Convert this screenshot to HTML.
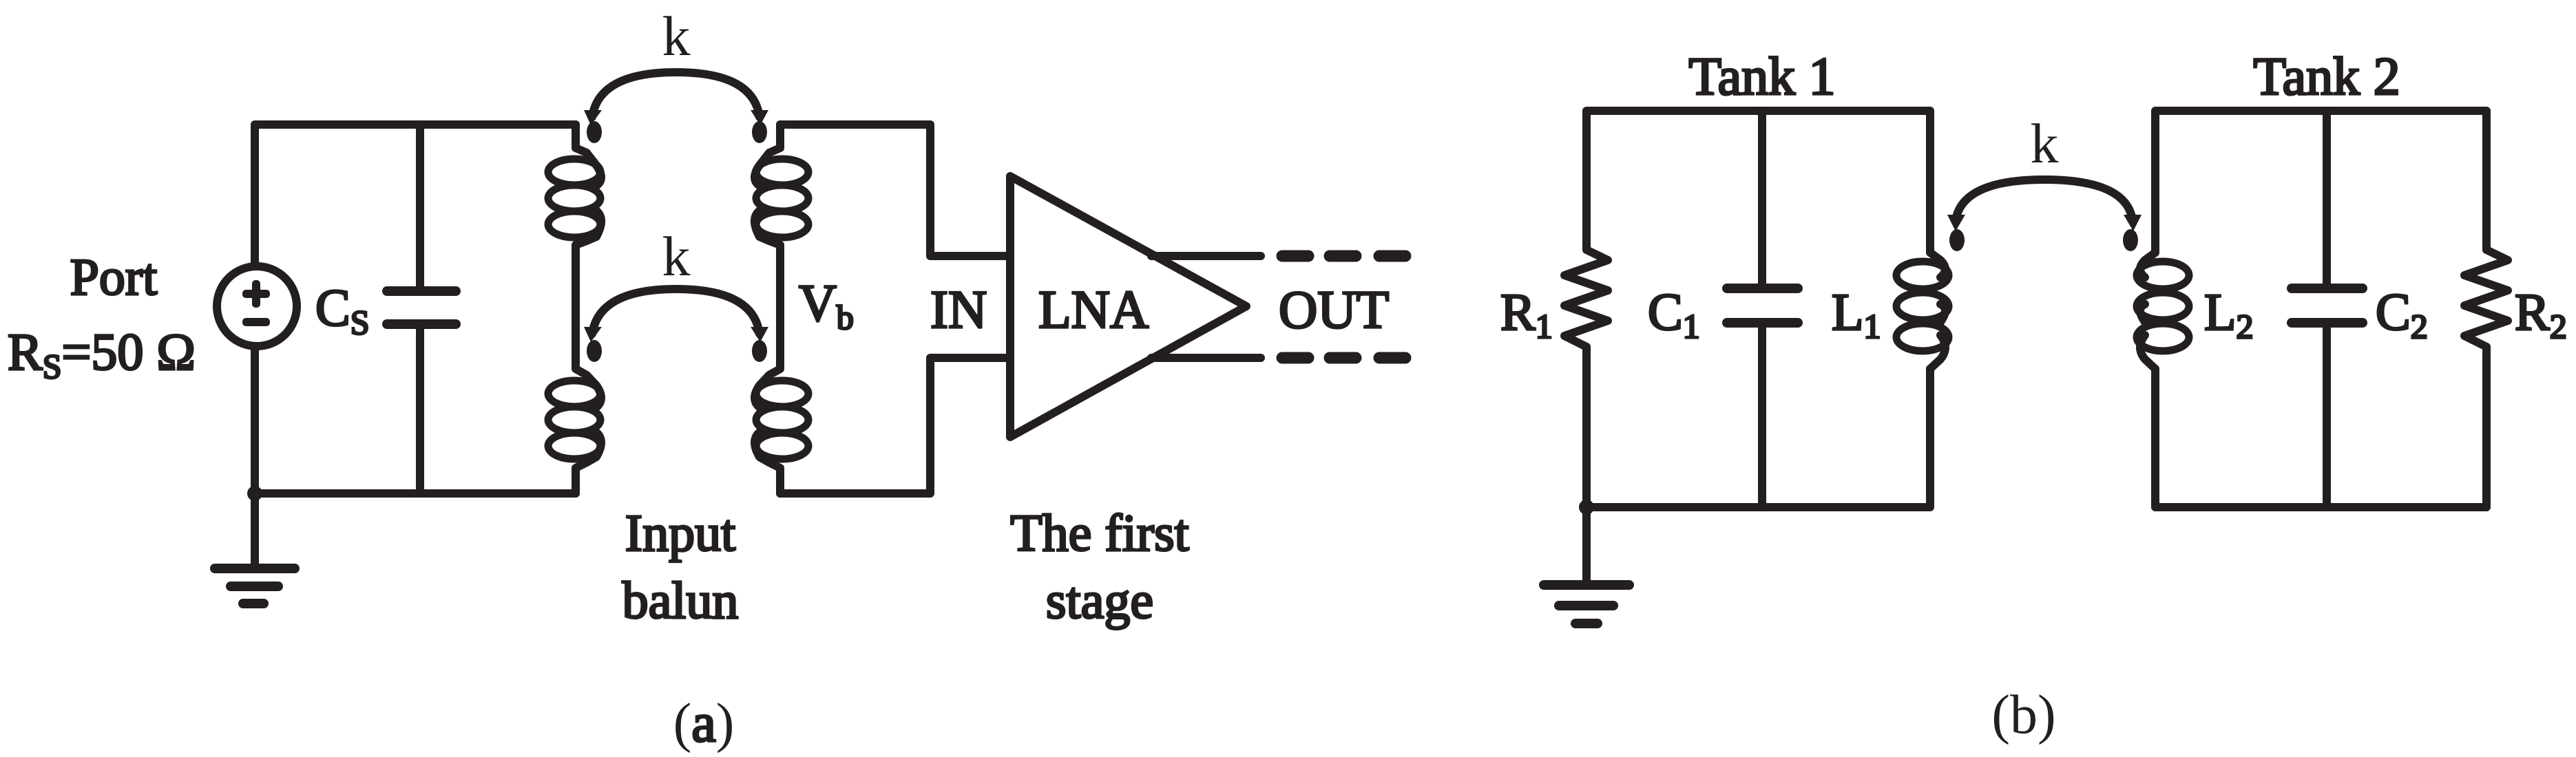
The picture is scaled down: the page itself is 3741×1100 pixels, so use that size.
<!DOCTYPE html>
<html><head><meta charset="utf-8"><style>
html,body{margin:0;padding:0;background:#fff;}
svg{display:block}
text{font-family:"Liberation Serif","Times New Roman",serif;fill:#231f20;font-weight:normal}
.b{stroke:#231f20;stroke-width:3.2px}
</style></head><body>
<svg width="3741" height="1100" viewBox="0 0 3741 1100" xmlns="http://www.w3.org/2000/svg">
<defs>
<g id="coilL">
 <ellipse cx="0" cy="0" rx="38" ry="19" fill="none" stroke="#231f20" stroke-width="11"/>
 <ellipse cx="0" cy="38" rx="38" ry="19" fill="none" stroke="#231f20" stroke-width="11"/>
 <ellipse cx="0" cy="76" rx="38" ry="19" fill="none" stroke="#231f20" stroke-width="11"/>
</g>
<g id="coilB">
 <ellipse cx="0" cy="0" rx="38" ry="20" fill="none" stroke="#231f20" stroke-width="11"/>
 <ellipse cx="0" cy="45" rx="38" ry="20" fill="none" stroke="#231f20" stroke-width="11"/>
 <ellipse cx="0" cy="90" rx="38" ry="20" fill="none" stroke="#231f20" stroke-width="11"/>
</g>
</defs>
<g stroke="#231f20" stroke-width="12" fill="none" stroke-linecap="round" stroke-linejoin="round">
 <polyline points="836,181 370,181 370,717 836,717"/>
 <line x1="610" y1="181" x2="610" y2="423"/>
 <line x1="610" y1="471" x2="610" y2="717"/>
 <line x1="562" y1="423" x2="662" y2="423" stroke-width="14"/>
 <line x1="562" y1="471" x2="662" y2="471" stroke-width="14"/>
 <ellipse cx="373" cy="445" rx="58" ry="58" fill="#fff"/>
 <line x1="370" y1="826" x2="370" y2="717"/>
 <line x1="312" y1="826" x2="428" y2="826" stroke-width="14"/>
 <line x1="335" y1="852" x2="404" y2="852" stroke-width="14"/>
 <line x1="353" y1="877" x2="383" y2="877" stroke-width="14"/>
 <polyline points="836,181 836,215 852,222 866,240"/>
 <path d="M866,240 Q880,260 866,270 M866,306 Q880,318 866,344 L852,350 L836,356 L836,536 L852,545 L866,560"/>
 <path d="M866,560 Q880,580 866,592 M866,628 Q880,640 866,664 L852,672 L836,680 L836,717"/>
 <polyline points="1133,181 1133,215 1117,222 1103,240"/>
 <path d="M1103,240 Q1089,260 1103,270 M1103,306 Q1089,318 1103,344 L1117,350 L1133,356 L1133,536 L1117,545 L1103,560"/>
 <path d="M1103,560 Q1089,580 1103,592 M1103,628 Q1089,640 1103,664 L1117,672 L1133,680 L1133,717"/>
 <polyline points="1133,181 1351,181 1351,372 1467,372"/>
 <polyline points="1133,717 1351,717 1351,520 1467,520"/>
 <polygon points="1467,256 1810,445 1467,635"/>
 <line x1="1672" y1="372" x2="1831" y2="372"/>
 <line x1="1672" y1="520" x2="1831" y2="520"/>
 <g stroke-width="17">
 <line x1="1862" y1="372" x2="1900" y2="372"/><line x1="1931" y1="372" x2="1969" y2="372"/><line x1="2003" y1="372" x2="2041" y2="372"/>
 <line x1="1862" y1="520" x2="1900" y2="520"/><line x1="1931" y1="520" x2="1969" y2="520"/><line x1="2003" y1="520" x2="2041" y2="520"/>
 </g>
 <path d="M860,170 Q870,105 982,105 Q1094,105 1103,170"/>
 <path d="M860,485 Q870,420 982,420 Q1094,420 1103,485"/>
 <polyline points="2304,363 2304,161 2803,161 2803,367"/>
 <polyline points="2304,504 2304,737 2803,737 2803,536"/>
 <polyline points="2304,363 2335,378 2272,400 2335,422 2272,444 2335,466 2272,488 2304,504"/>
 <line x1="2559" y1="161" x2="2559" y2="419"/>
 <line x1="2559" y1="469" x2="2559" y2="737"/>
 <line x1="2508" y1="419" x2="2611" y2="419" stroke-width="14"/>
 <line x1="2508" y1="469" x2="2611" y2="469" stroke-width="14"/>
 <path d="M2803,367 L2818,378 Q2832,392 2818,403 M2818,442 Q2832,448 2818,468 M2818,487 Q2832,505 2818,522 L2803,536"/>
 <line x1="2304" y1="737" x2="2304" y2="850"/>
 <line x1="2242" y1="850" x2="2366" y2="850" stroke-width="14"/>
 <line x1="2264" y1="880" x2="2343" y2="880" stroke-width="14"/>
 <line x1="2288" y1="906" x2="2320" y2="906" stroke-width="14"/>
 <polyline points="3130,367 3130,161 3611,161 3611,363"/>
 <polyline points="3130,536 3130,737 3611,737 3611,504"/>
 <polyline points="3611,363 3642,378 3579,400 3642,422 3579,444 3642,466 3579,488 3611,504"/>
 <line x1="3379" y1="161" x2="3379" y2="419"/>
 <line x1="3379" y1="469" x2="3379" y2="737"/>
 <line x1="3328" y1="419" x2="3431" y2="419" stroke-width="14"/>
 <line x1="3328" y1="469" x2="3431" y2="469" stroke-width="14"/>
 <path d="M3130,367 L3115,378 Q3101,392 3115,403 M3115,442 Q3101,448 3115,468 M3115,487 Q3101,505 3115,522 L3130,536"/>
 <path d="M2840,320 Q2850,261 2969,261 Q3088,261 3097,320"/>
</g>
<use href="#coilL" x="834" y="250"/>
<use href="#coilL" x="834" y="572"/>
<use href="#coilL" x="1136" y="250"/>
<use href="#coilL" x="1136" y="572"/>
<use href="#coilB" x="2792" y="400"/>
<use href="#coilB" x="3141" y="400"/>
<g fill="#231f20">
 <rect x="352" y="421" width="40" height="12" rx="5"/><rect x="366" y="407" width="12" height="40" rx="5"/>
 <rect x="352" y="462" width="40" height="12" rx="5"/>
 <ellipse cx="863" cy="192" rx="11" ry="16"/><ellipse cx="1103" cy="192" rx="11" ry="16"/>
 <ellipse cx="863" cy="510" rx="11" ry="16"/><ellipse cx="1103" cy="510" rx="11" ry="16"/>
 <ellipse cx="2842" cy="349" rx="11" ry="16"/><ellipse cx="3094" cy="349" rx="11" ry="16"/>
 <circle cx="370" cy="717" r="11"/><circle cx="2304" cy="737" r="11"/>
 <polygon points="848,160 874,160 858,182"/><polygon points="1090,160 1116,160 1104,182"/>
 <polygon points="848,475 874,475 858,497"/><polygon points="1090,475 1116,475 1104,497"/>
 <polygon points="2828,312 2854,312 2840,336"/><polygon points="3084,312 3110,312 3098,336"/>
</g>
<text x="165" y="428" font-size="76" class="b" text-anchor="middle">Port</text>
<text x="11" y="537" font-size="76" class="b">R<tspan font-size="50" dy="12">S</tspan><tspan dy="-12">=50 Ω</tspan></text>
<text x="458" y="473" font-size="76" class="b">C<tspan font-size="50" dy="12">S</tspan></text>
<text x="982" y="80" font-size="82" text-anchor="middle">k</text>
<text x="982" y="400" font-size="82" text-anchor="middle">k</text>
<text x="1160" y="466" font-size="76" class="b">V<tspan font-size="50" dy="12">b</tspan></text>
<text x="1351" y="476" font-size="78" class="b">IN</text>
<text x="1508" y="476" font-size="78" class="b">LNA</text>
<text x="1857" y="476" font-size="78" class="b">OUT</text>
<text x="988" y="800" font-size="76" class="b" text-anchor="middle">Input</text>
<text x="988" y="898" font-size="76" class="b" text-anchor="middle">balun</text>
<text x="1597" y="800" font-size="76" class="b" text-anchor="middle">The first</text>
<text x="1597" y="898" font-size="76" class="b" text-anchor="middle">stage</text>
<text x="1022" y="1077" font-size="80" text-anchor="middle">(<tspan class="b">a</tspan>)</text>
<text x="2559" y="137" font-size="78" class="b" text-anchor="middle">Tank 1</text>
<text x="3379" y="137" font-size="78" class="b" text-anchor="middle">Tank 2</text>
<text x="2969" y="236" font-size="82" text-anchor="middle">k</text>
<text x="2179" y="479" font-size="76" class="b">R<tspan font-size="50" dy="12">1</tspan></text>
<text x="2393" y="479" font-size="76" class="b">C<tspan font-size="50" dy="12">1</tspan></text>
<text x="2660" y="479" font-size="76" class="b">L<tspan font-size="50" dy="12">1</tspan></text>
<text x="3201" y="479" font-size="76" class="b">L<tspan font-size="50" dy="12">2</tspan></text>
<text x="3450" y="479" font-size="76" class="b">C<tspan font-size="50" dy="12">2</tspan></text>
<text x="3652" y="479" font-size="76" class="b">R<tspan font-size="50" dy="12">2</tspan></text>
<text x="2939" y="1065" font-size="80" text-anchor="middle">(b)</text>
</svg>
</body></html>
